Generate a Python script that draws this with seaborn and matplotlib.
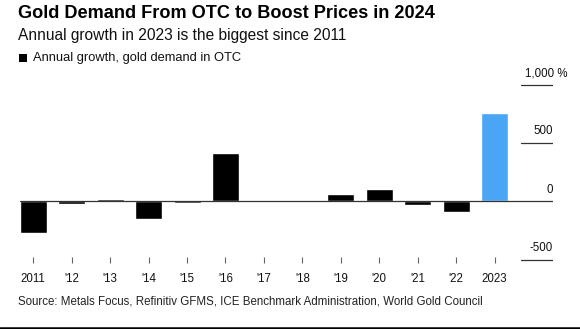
import matplotlib
matplotlib.use("Agg")
import matplotlib.pyplot as plt
import matplotlib.transforms as mtransforms
from matplotlib.lines import Line2D
from matplotlib.patches import Rectangle
import seaborn as sns
import pandas as pd

# Annual growth of OTC gold demand, percent
years = ["2011", "'12", "'13", "'14", "'15", "'16", "'17", "'18", "'19", "'20", "'21", "'22", "2023"]
growth = [-275, -23, 18, -152, -18, 417, -8, -8, 60, 106, -29, -89, 755]
bar_colors = ["#000000"] * 12 + ["#4AA6F5"]
y_ticks = [1000, 500, 0, -500]
y_labels = ["1,000 %", "500", "0", "-500"]

df = pd.DataFrame({"year": years, "growth": growth})

sns.set_theme(style="white")
plt.rcParams["font.family"] = ["Liberation Sans", "DejaVu Sans"]

W, H = 580, 329
fig = plt.figure(figsize=(W / 100, H / 100), dpi=100)
fig.patch.set_facecolor("white")

# axes box in pixels: x 20..553, y 80..263 (from top)
ax = fig.add_axes([20 / W, (H - 263) / H, 533 / W, 183 / H])
sns.barplot(data=df, x="year", y="growth", hue="year", palette=bar_colors,
            width=0.7, legend=False, ax=ax, saturation=1)

ax.set_xlim(-0.346, 13.52)
ax.set_ylim(-530, 1041)
for s in ax.spines.values():
    s.set_visible(False)
ax.set_xlabel("")
ax.set_ylabel("")
ax.set_yticks([])
ax.tick_params(axis="x", direction="in", length=4.5, width=0.8, color="#666666",
               bottom=True, pad=7, labelsize=8.3, labelcolor="#111111")

# zero line across the plot, short reference lines at the right for other ticks
ax.axhline(0, color="#333333", lw=0.9, zorder=3)
for v, lab in zip(y_ticks, y_labels):
    if v != 0:
        ax.axhline(v, xmin=0.94, xmax=1.0, color="#333333", lw=0.9)
    tr = mtransforms.blended_transform_factory(ax.transAxes, ax.transData)
    off = mtransforms.offset_copy(tr, fig=fig, x=0, y=4, units="points")
    xpos = 1.027 if lab.endswith("%") else 1.0
    ax.text(xpos, v, lab, transform=off, ha="right", va="bottom",
            fontsize=8.3, color="#111111")

# titles
fig.text(18 / W, 1 - 13 / H, "Gold Demand From OTC to Boost Prices in 2024",
         fontsize=13.05, fontweight="bold", color="#000000", va="center", ha="left")
fig.text(18 / W, 1 - 35.5 / H, "Annual growth in 2023 is the biggest since 2011",
         fontsize=11.2, color="#111111", va="center", ha="left")
fig.patches.append(Rectangle((19 / W, 1 - 62 / H), 8 / W, 8 / H, transform=fig.transFigure,
                             facecolor="black", edgecolor="none"))
fig.text(33 / W, 1 - 57.5 / H, "Annual growth, gold demand in OTC",
         fontsize=9.3, color="#111111", va="center", ha="left")

fig.text(18 / W, 1 - 302 / H,
         "Source: Metals Focus, Refinitiv GFMS, ICE Benchmark Administration, World Gold Council",
         fontsize=8.3, color="#222222", va="center", ha="left")
fig.lines.append(Line2D([0, 1], [1 - 327.5 / H, 1 - 327.5 / H], transform=fig.transFigure,
                        color="black", lw=1.8))

fig.savefig("out.png", dpi=100)
